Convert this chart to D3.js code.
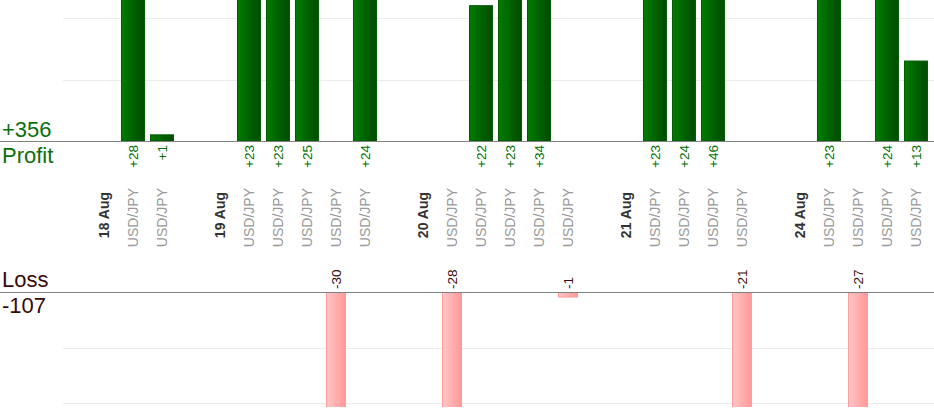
<!DOCTYPE html>
<html>
<head>
<meta charset="utf-8">
<script src="https://cdn.jsdelivr.net/npm/d3@7"></script>
<style>
  body { margin: 0; background: #fff; }
  svg { display: block; font-family: "Liberation Sans", Arial, sans-serif; }
</style>
</head>
<body>
<svg class="pl" width="934" height="420"></svg>
<script>
const dates = ["18 Aug", "19 Aug", "20 Aug", "21 Aug", "24 Aug"];
const pairs = [
  ["USD/JPY", "USD/JPY"],
  ["USD/JPY", "USD/JPY", "USD/JPY", "USD/JPY", "USD/JPY"],
  ["USD/JPY", "USD/JPY", "USD/JPY", "USD/JPY", "USD/JPY"],
  ["USD/JPY", "USD/JPY", "USD/JPY", "USD/JPY"],
  ["USD/JPY", "USD/JPY", "USD/JPY", "USD/JPY"]
];
const results = [
  [28, 1],
  [23, 23, 25, -30, 24],
  [-28, 22, 23, 34, -1],
  [23, 24, 46, -21],
  [23, -27, 24, 13]
];
const gridTicks = [10, 20];

// one empty slot + one date slot + one slot per trade
const slots = [];
dates.forEach((d, i) => {
  slots.push({type: "gap"});
  slots.push({type: "date", label: d});
  results[i].forEach((v, j) => slots.push({type: "trade", label: pairs[i][j], value: v}));
});
slots.forEach((s, i) => s.idx = i);

const trades = slots.filter(s => s.type == "trade");
const totalProfit = d3.sum(trades, d => d.value > 0 ? d.value : 0);
const totalLoss = d3.sum(trades, d => d.value < 0 ? -d.value : 0);

const W = 934, H = 420;
const profitBase = 141, lossBase = 292, lossBottom = 407;
const gridLeft = 63;

const x = d3.scaleBand()
  .domain(slots.map(s => s.idx))
  .range([60.5, 930.5])
  .paddingInner(0.17)
  .paddingOuter(0.085);

const yProfit = d3.scaleLinear().domain([0, 20]).range([profitBase, profitBase - 123]);
const yLoss = d3.scaleLinear().domain([0, 20]).range([lossBase, lossBase + 111]);

const svg = d3.select("svg.pl");
const defs = svg.append("defs");

const gGreen = defs.append("linearGradient").attr("id", "gGreen");
gGreen.append("stop").attr("offset", "0%").attr("stop-color", "#007d00");
gGreen.append("stop").attr("offset", "100%").attr("stop-color", "#004a00");

const gPink = defs.append("linearGradient").attr("id", "gPink");
gPink.append("stop").attr("offset", "0%").attr("stop-color", "#ffc6c6");
gPink.append("stop").attr("offset", "100%").attr("stop-color", "#ff9898");

defs.append("clipPath").attr("id", "lossClip")
  .append("rect")
  .attr("x", 0).attr("y", lossBase).attr("width", W).attr("height", lossBottom - lossBase);

// grid lines
svg.append("g").selectAll("line.pgrid")
  .data(gridTicks)
  .enter().append("line")
  .attr("class", "pgrid")
  .attr("x1", gridLeft).attr("x2", W)
  .attr("y1", d => Math.round(yProfit(d)) + 0.5)
  .attr("y2", d => Math.round(yProfit(d)) + 0.5)
  .style("stroke", "#ebebeb");

svg.append("g").selectAll("line.lgrid")
  .data(gridTicks)
  .enter().append("line")
  .attr("class", "lgrid")
  .attr("x1", gridLeft).attr("x2", W)
  .attr("y1", d => Math.round(yLoss(d)) + 0.5)
  .attr("y2", d => Math.round(yLoss(d)) + 0.5)
  .style("stroke", "#ebebeb");

// profit bars
const bw = x.bandwidth();
svg.append("g").selectAll("rect.profit")
  .data(trades.filter(d => d.value > 0))
  .enter().append("rect")
  .attr("class", "profit")
  .attr("x", d => x(d.idx) + 0.5)
  .attr("y", d => yProfit(d.value))
  .attr("width", bw - 1)
  .attr("height", d => profitBase - yProfit(d.value))
  .style("fill", "url(#gGreen)")
  .style("stroke", "#005a00")
  .style("stroke-width", 1);

// loss bars
const lw = 19;
svg.append("g").attr("clip-path", "url(#lossClip)")
  .selectAll("rect.loss")
  .data(trades.filter(d => d.value < 0))
  .enter().append("rect")
  .attr("class", "loss")
  .attr("x", d => x(d.idx) + bw / 2 - lw / 2)
  .attr("y", lossBase)
  .attr("width", lw)
  .attr("height", d => yLoss(-d.value) - lossBase - 0.5)
  .style("fill", "url(#gPink)")
  .style("stroke", "#ff9c9c")
  .style("stroke-width", 1);

// base lines
[profitBase, lossBase].forEach(y => {
  svg.append("line")
    .attr("x1", 0).attr("x2", W)
    .attr("y1", y + 0.5).attr("y2", y + 0.5)
    .style("stroke", "#808080");
});

// profit value labels
svg.append("g").selectAll("text.pval")
  .data(trades.filter(d => d.value > 0))
  .enter().append("text")
  .attr("class", "pval")
  .attr("transform", d => `translate(${x(d.idx) + bw / 2 + 5}, 145) rotate(-90)`)
  .attr("text-anchor", "end")
  .style("font-size", "13.5px")
  .style("fill", "#007000")
  .text(d => "+" + d.value);

// loss value labels
svg.append("g").selectAll("text.lval")
  .data(trades.filter(d => d.value < 0))
  .enter().append("text")
  .attr("class", "lval")
  .attr("transform", d => `translate(${x(d.idx) + bw / 2 + 4.5}, 289) rotate(-90)`)
  .attr("text-anchor", "start")
  .style("font-size", "13.5px")
  .style("fill", "#3a0a0a")
  .text(d => d.value);

// category labels
svg.append("g").selectAll("text.cat")
  .data(slots.filter(s => s.type != "gap"))
  .enter().append("text")
  .attr("class", "cat")
  .attr("transform", d => `translate(${x(d.idx) + bw / 2 + 5}, ${d.type == "date" ? 192 : 188}) rotate(-90)`)
  .attr("text-anchor", "end")
  .style("font-size", "14px")
  .style("font-weight", d => d.type == "date" ? "bold" : "normal")
  .style("fill", d => d.type == "date" ? "#333" : "#999")
  .text(d => d.label);

// totals
svg.append("text").attr("x", 2).attr("y", 137)
  .style("font-size", "22px").style("fill", "#0a700a")
  .text("+" + totalProfit);
svg.append("text").attr("x", 2).attr("y", 163)
  .style("font-size", "22px").style("fill", "#0a700a")
  .text("Profit");
svg.append("text").attr("x", 2).attr("y", 287)
  .style("font-size", "22px").style("fill", "#3a0a0a")
  .text("Loss");
svg.append("text").attr("x", 2).attr("y", 313)
  .style("font-size", "22px").style("fill", "#3a0a0a")
  .text("-" + totalLoss);
</script>
</body>
</html>
